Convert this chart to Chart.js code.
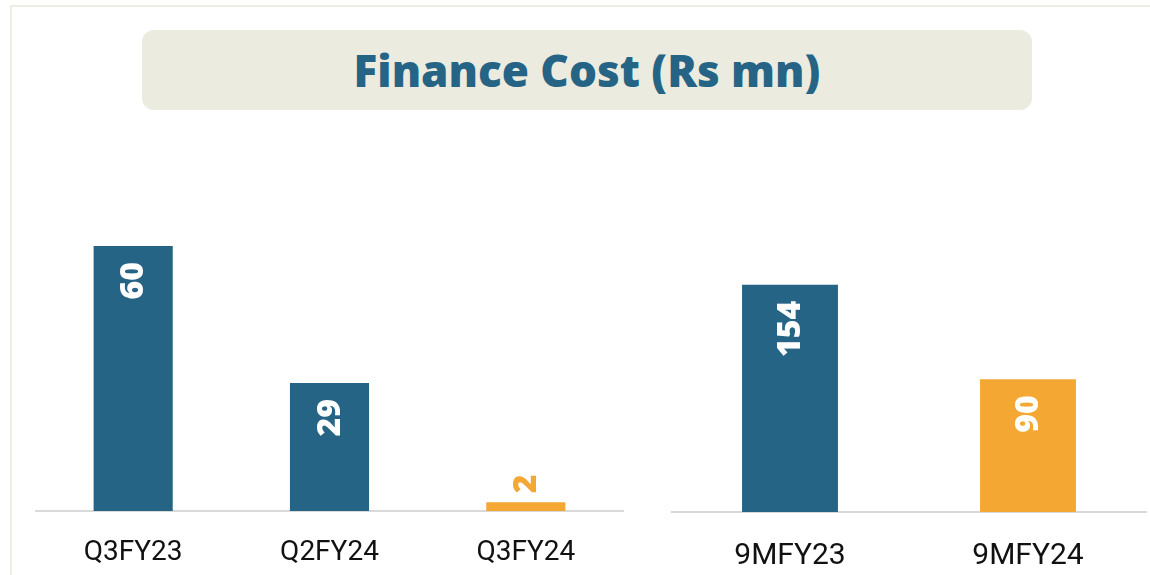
<!DOCTYPE html>
<html>
<head>
<meta charset="utf-8">
<script src="https://cdn.jsdelivr.net/npm/chart.js@4"></script>
<style>
  html, body { margin: 0; padding: 0; background: #fff; }
  body { width: 1150px; height: 575px; position: relative; overflow: hidden; }
  .frame { position: absolute; left: 10px; top: 5px; width: 1200px; height: 620px; border: 2px solid #EEEDE3; box-sizing: border-box; }
  .title {
    position: absolute; left: 142px; top: 30px; width: 890px; height: 80px;
    background: #ECEBE0; border-radius: 12px;
    display: flex; align-items: center; justify-content: center;
    font-family: 'Open Sans', sans-serif; font-weight: 800; font-size: 44px; color: #266486;
  }
  .panel { position: absolute; top: 140px; height: 435px; }
  #left { left: 35px; width: 589px; }
  #right { left: 671px; width: 476px; }
</style>
</head>
<body>
<div class="frame"></div>
<div class="title">Finance Cost (Rs mn)</div>
<div class="panel" id="left"><canvas id="qtrChart"></canvas></div>
<div class="panel" id="right"><canvas id="nineMChart"></canvas></div>
<script>
const qtrLabels = ['Q3FY23', 'Q2FY24', 'Q3FY24'];
const qtrValues = [60, 29, 2];
const nineMLabels = ['9MFY23', '9MFY24'];
const nineMValues = [154, 90];

const BLUE = '#266486';
const ORANGE = '#F4A833';

// rotated value labels, inside the bar near the top, or above it when the bar is too short
const barLabels = {
  id: 'barLabels',
  afterDatasetsDraw(chart) {
    const { ctx } = chart;
    const meta = chart.getDatasetMeta(0);
    const data = chart.data.datasets[0].data;
    const colors = chart.data.datasets[0].backgroundColor;
    ctx.save();
    ctx.font = '800 32px "Open Sans"';
    ctx.textBaseline = 'middle';
    meta.data.forEach((bar, i) => {
      const h = bar.base - bar.y;
      const inside = h > 50;
      ctx.save();
      if (inside) {
        ctx.translate(bar.x + 1, bar.y + 16);
        ctx.rotate(-Math.PI / 2);
        ctx.textAlign = 'right';
        ctx.fillStyle = '#fff';
      } else {
        ctx.translate(bar.x + 1, bar.y - 9);
        ctx.rotate(-Math.PI / 2);
        ctx.textAlign = 'left';
        ctx.fillStyle = colors[i];
      }
      ctx.fillText(String(data[i]), 0, 0);
      ctx.restore();
    });
    ctx.restore();
  },
};

function makeChart(id, labels, values, colors, yMax, axisH, fontSize, pad) {
  return new Chart(document.getElementById(id), {
    type: 'bar',
    data: {
      labels,
      datasets: [{ data: values, backgroundColor: colors, barPercentage: 0.403, categoryPercentage: 1 }],
    },
    options: {
      responsive: true,
      maintainAspectRatio: false,
      animation: false,
      layout: { padding: 0 },
      plugins: { legend: { display: false }, tooltip: { enabled: false } },
      scales: {
        x: {
          grid: { display: false, drawTicks: false },
          border: { display: true, color: '#D9D9D9', width: 2 },
          ticks: { color: '#111', padding: pad, font: { family: 'Roboto', size: fontSize }, maxRotation: 0 },
          afterFit: (s) => { s.height = axisH; },
        },
        y: { display: false, min: 0, max: yMax },
      },
    },
    plugins: [barLabels],
  });
}

makeChart('qtrChart', qtrLabels, qtrValues, [BLUE, BLUE, ORANGE], 84, 64, 28, 25);
makeChart('nineMChart', nineMLabels, nineMValues, [BLUE, ORANGE], 252, 63, 30, 26);
</script>
</body>
</html>
